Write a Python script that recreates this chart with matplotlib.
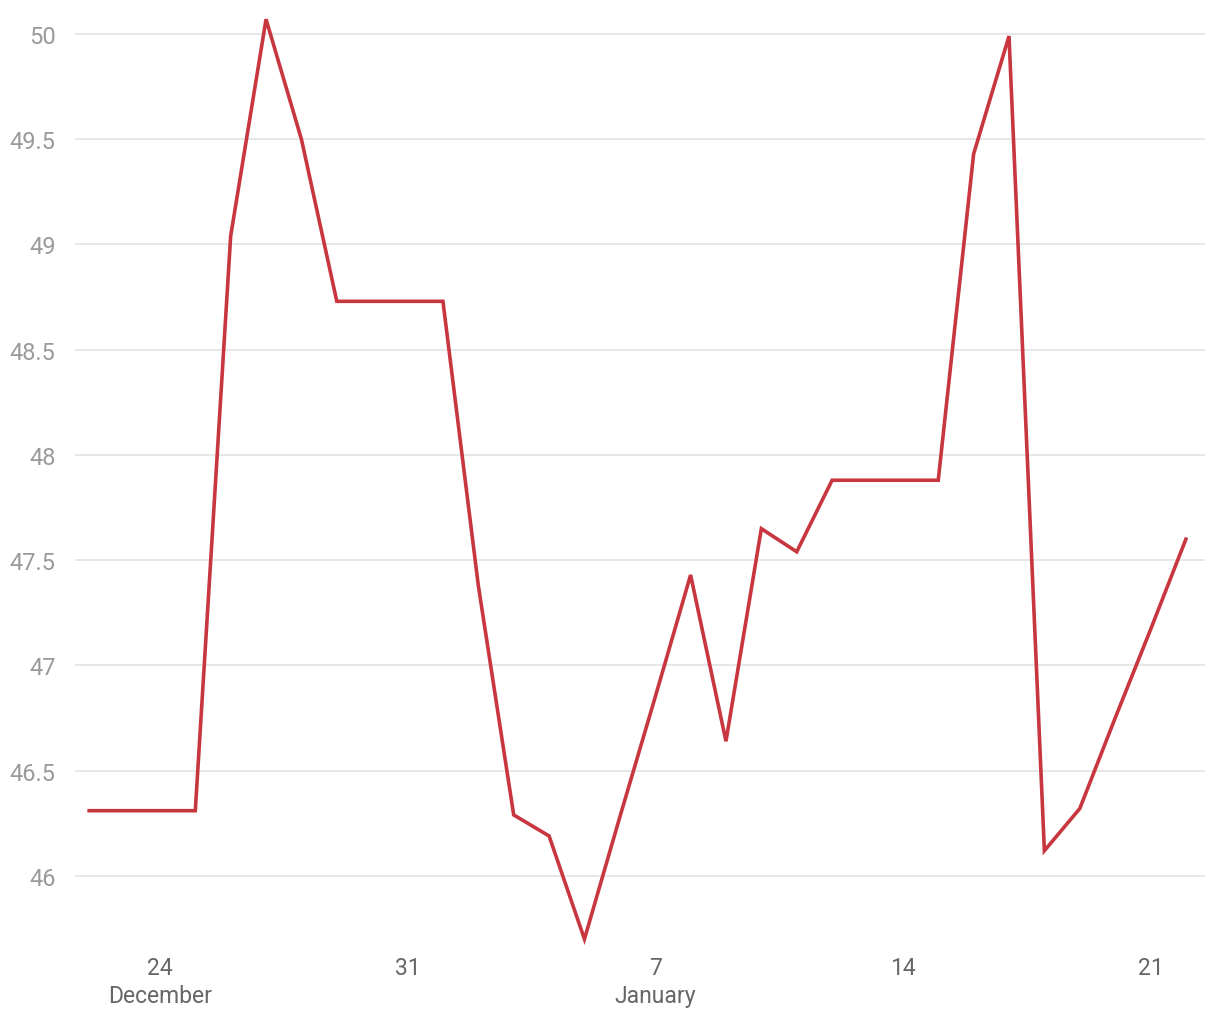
import datetime as dt
from matplotlib import pyplot as plt
import matplotlib.dates as mdates

start = dt.date(2018, 12, 22)
values = [46.31, 46.31, 46.31, 46.31, 49.04, 50.07, 49.50, 48.73, 48.73, 48.73,
          48.73, 47.38, 46.29, 46.19, 45.70, 46.28, 46.85, 47.43, 46.64, 47.65,
          47.54, 47.88, 47.88, 47.88, 47.88, 49.43, 49.99, 46.12, 46.32, 46.75,
          47.17, 47.60]
dates = [start + dt.timedelta(days=i) for i in range(len(values))]

tick_dates = [dt.date(2018, 12, 24), dt.date(2018, 12, 31), dt.date(2019, 1, 7),
              dt.date(2019, 1, 14), dt.date(2019, 1, 21)]
tick_labels = ['24\nDecember', '31', '7\nJanuary', '14', '21']
y_ticks = [46, 46.5, 47, 47.5, 48, 48.5, 49, 49.5, 50]

plt.rcParams['font.family'] = ['Roboto', 'DejaVu Sans']

fig = plt.figure(figsize=(12.2, 10.2), dpi=100)
W, H = 1220, 1020
ax = fig.add_axes([75 / W, 1 - 950 / H, (1205 - 75) / W, (950 - 15) / H])

ax.plot(dates, values, color='#c8363f', linewidth=2.6, solid_joinstyle='miter')

x0 = mdates.date2num(dates[0])
x1 = mdates.date2num(dates[-1])
ax.set_xlim(x0 - 0.4, x1 + 0.54)
ax.set_ylim(45.653, 50.095)

ax.set_yticks(y_ticks)
ax.set_yticklabels(['46', '46.5', '47', '47.5', '48', '48.5', '49', '49.5', '50'])
ax.set_xticks([mdates.date2num(d) for d in tick_dates])
ax.set_xticklabels(tick_labels, linespacing=1.3)

ax.tick_params(axis='y', length=0, pad=14, labelsize=17, labelcolor='#9a9a9a')
ax.tick_params(axis='x', length=0, pad=5, labelsize=16.5, labelcolor='#666666')

ax.grid(axis='y', color='#e3e3e3', linewidth=1.2)
ax.set_axisbelow(True)
for s in ax.spines.values():
    s.set_visible(False)

plt.savefig('out.png', dpi=100)
